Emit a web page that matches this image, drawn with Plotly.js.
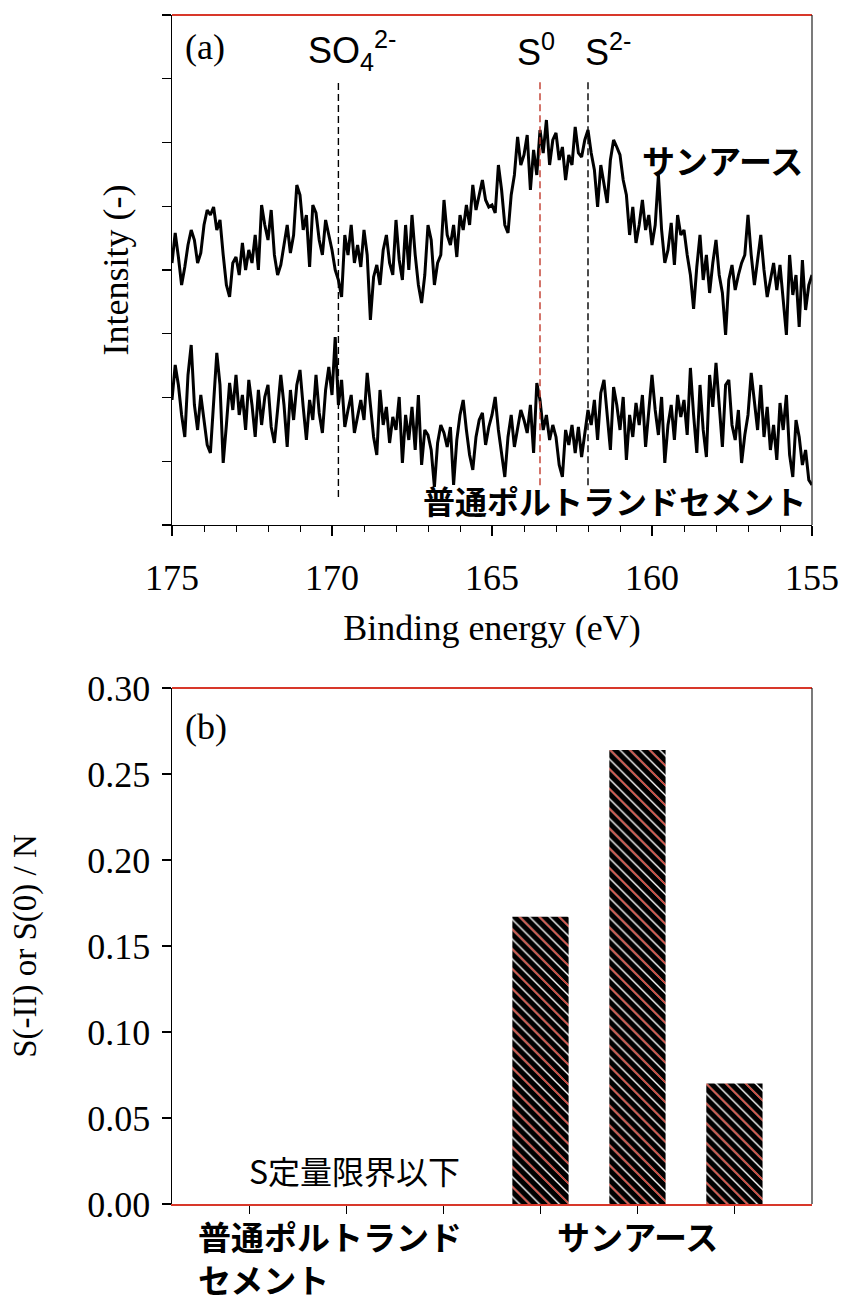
<!DOCTYPE html>
<html>
<head>
<meta charset="utf-8">
<script src="https://cdn.plot.ly/plotly-3.0.1.min.js"></script>
<style>
  html, body { margin: 0; padding: 0; background: #ffffff; }
  #chart { width: 843px; height: 1307px; }
</style>
</head>
<body>
<div id="chart"></div>
<script>
// ---------- Panel (a): XPS S2p spectra ----------
// Binding-energy grid of the measurement (eV), start and step
const eVStart = 175.0;
const eVStep = -0.1;

// Intensity (arbitrary units), 175 eV -> 155 eV
const sunEarthIntensity = [
  262, 292, 268, 240, 258, 280, 295, 285, 262, 272,
  300, 315, 310, 318, 295, 305, 270, 240, 228, 262,
  268, 250, 282, 255, 275, 262, 290, 255, 320, 300,
  285, 315, 270, 250, 260, 280, 300, 272, 290, 340,
  330, 295, 310, 258, 320, 312, 285, 270, 305, 290,
  275, 255, 245, 228, 290, 270, 300, 262, 280, 258,
  295, 270, 205, 248, 260, 240, 275, 290, 262, 250,
  305, 265, 245, 300, 255, 310, 270, 240, 222, 250,
  300, 285, 240, 262, 270, 325, 290, 280, 300, 268,
  310, 295, 320, 300, 340, 315, 330, 345, 325, 318,
  320, 312, 360, 335, 300, 292, 330, 350, 388, 360,
  370, 390, 335, 375, 350, 395, 372, 405, 360, 385,
  392, 365, 378, 345, 370, 360, 398, 372, 368, 385,
  395, 372, 355, 318, 360, 340, 322, 365, 385, 378,
  370, 345, 330, 290, 318, 282, 300, 325, 295, 310,
  280, 300, 350, 295, 262, 275, 302, 260, 310, 290,
  295, 270, 250, 216, 258, 290, 245, 270, 232, 262,
  285, 250, 232, 190, 245, 260, 235, 250, 262, 270,
  310, 270, 240, 265, 290, 255, 228, 245, 262, 235,
  260, 225, 190, 270, 230, 250, 198, 265, 215, 240,
  250
];
const opcIntensity = [
  125, 160, 140, 110, 88, 150, 180, 120, 95, 130,
  105, 80, 72, 120, 172, 140, 62, 100, 142, 115,
  150, 110, 130, 95, 145, 120, 88, 135, 100, 128,
  140, 98, 82, 115, 150, 120, 78, 135, 105, 140,
  155, 118, 85, 125, 105, 150, 112, 92, 135, 158,
  130, 188, 120, 145, 98, 115, 130, 92, 110, 125,
  105, 152, 120, 88, 70, 135, 100, 118, 82, 108,
  95, 128, 62, 110, 85, 118, 75, 130, 60, 95,
  90, 75, 38, 82, 100, 92, 78, 98, 40, 85,
  110, 125, 95, 70, 55, 88, 105, 112, 80, 98,
  110, 128, 95, 72, 48, 88, 110, 78, 95, 115,
  105, 92, 120, 72, 142, 125, 95, 110, 85, 100,
  88, 60, 48, 95, 80, 100, 72, 98, 68, 90,
  115, 100, 125, 85, 132, 145, 110, 75, 138, 120,
  95, 128, 65, 110, 88, 122, 100, 130, 78, 118,
  150, 115, 90, 128, 62, 100, 120, 85, 130, 108,
  125, 90, 157, 110, 72, 140, 95, 68, 150, 118,
  162, 120, 78, 140, 145, 100, 85, 115, 62, 90,
  110, 152, 125, 95, 140, 88, 118, 75, 100, 65,
  122, 95, 130, 70, 48, 105, 88, 60, 75, 45,
  40
];
const seriesNames = ['サンアース', '普通ポルトランドセメント'];

// Reference peak positions (eV) and labels
const peakEnergies = [169.8, 163.5, 162.0];
const peakLabels = ['SO<sub>4</sub><sup>2-</sup>', 'S<sup>0</sup>', 'S<sup>2-</sup>'];

// ---------- Panel (b): S(-II) or S(0) / N ----------
const samplePositions = [1, 2, 3, 4, 5, 6];
const sampleRatio = [null, null, null, 0.167, 0.264, 0.070];
const groupLabels = ['普通ポルトランド<br>セメント', 'サンアース'];
const groupCenters = [2, 5];
const belowLimitText = 'S定量限界以下';

// ---------- build ----------
const energies = sunEarthIntensity.map((_, i) => +(eVStart + i * eVStep).toFixed(1));

const serif = '"Liberation Serif", "Times New Roman", serif';
const sans = '"Liberation Sans", Arial, sans-serif';
const jp = '"Noto Sans CJK JP", "Noto Sans", sans-serif';
const red = '#d8382a';

const traces = [
  { type: 'scatter', mode: 'lines', x: energies, y: sunEarthIntensity, name: seriesNames[0],
    xaxis: 'x', yaxis: 'y', line: { color: '#000000', width: 3 }, hoverinfo: 'skip' },
  { type: 'scatter', mode: 'lines', x: energies, y: opcIntensity, name: seriesNames[1],
    xaxis: 'x', yaxis: 'y', line: { color: '#000000', width: 3 }, hoverinfo: 'skip' },
  { type: 'bar', x: samplePositions, y: sampleRatio, xaxis: 'x2', yaxis: 'y2', width: 0.58,
    marker: { color: '#000000', line: { width: 0 },
      pattern: { shape: '\\', fgcolor: '#ffffff', bgcolor: '#000000', size: 7, solidity: 0.2, fillmode: 'replace' } } },
  { type: 'bar', x: samplePositions, y: sampleRatio, xaxis: 'x2', yaxis: 'y2', width: 0.58,
    marker: { color: 'rgba(0,0,0,0)', line: { width: 0 },
      pattern: { shape: '\\', fgcolor: red, bgcolor: 'rgba(0,0,0,0)', size: 14, solidity: 0.1, fillmode: 'replace' } } }
];

const peakStyles = [
  { color: '#000000', bottom: 0.055 },
  { color: '#c0392b', bottom: 0.078 },
  { color: '#000000', bottom: 0.078 }
];
const peakShift = [14, -4, 20];

const shapes = [];
peakEnergies.forEach((e, i) => {
  shapes.push({ type: 'line', xref: 'x', yref: 'y domain', x0: e, x1: e,
    y0: peakStyles[i].bottom, y1: 0.872,
    line: { color: peakStyles[i].color, width: 1.4, dash: '7px,4px' } });
});
// frame borders
['', '2'].forEach(s => {
  shapes.push({ type: 'line', xref: 'x' + s + ' domain', yref: 'y' + s + ' domain', x0: 0, x1: 1, y0: 1, y1: 1,
    line: { color: red, width: 2 } });
  shapes.push({ type: 'line', xref: 'x' + s + ' domain', yref: 'y' + s + ' domain', x0: 1, x1: 1, y0: 0, y1: 1,
    line: { color: '#222222', width: 1.2 } });
});

const annotations = [
  { xref: 'x domain', yref: 'y domain', x: 0.017, y: 0.937, xanchor: 'left', yanchor: 'middle',
    text: '(a)', showarrow: false, font: { family: serif, size: 36, color: '#000' } },
  { xref: 'x2 domain', yref: 'y2 domain', x: 0.017, y: 0.924, xanchor: 'left', yanchor: 'middle',
    text: '(b)', showarrow: false, font: { family: serif, size: 36, color: '#000' } },
  { xref: 'x domain', yref: 'y domain', x: 0.989, y: 0.716, xanchor: 'right', yanchor: 'middle',
    text: '<b>' + seriesNames[0] + '</b>', showarrow: false, font: { family: jp, size: 33, color: '#000' } },
  { xref: 'x domain', yref: 'y domain', x: 0.994, y: 0.049, xanchor: 'right', yanchor: 'middle',
    text: '<b>' + seriesNames[1] + '</b>', showarrow: false, font: { family: jp, size: 32, color: '#000' } },
  { xref: 'x2', yref: 'y2', x: groupCenters[0], y: 0.020, xanchor: 'center', yanchor: 'middle', xshift: 8,
    text: belowLimitText, showarrow: false, font: { family: jp, size: 32, color: '#000' } }
];
peakEnergies.forEach((e, i) => {
  annotations.push({ xref: 'x', yref: 'y domain', x: e, y: 0.931, xanchor: 'center', yanchor: 'middle',
    xshift: peakShift[i], text: peakLabels[i], showarrow: false, font: { family: sans, size: 36, color: '#000' } });
});
groupLabels.forEach((g, i) => {
  annotations.push({ xref: 'x2', yref: 'y2 domain', x: groupCenters[i], y: -0.012, xanchor: 'center', yanchor: 'top',
    xshift: i === 0 ? -17 : 0, align: 'left', text: '<b>' + g + '</b>', showarrow: false,
    font: { family: jp, size: 33, color: '#000' } });
});

const layout = {
  width: 843, height: 1307,
  margin: { l: 172, r: 31, t: 15, b: 103, pad: 0 },
  paper_bgcolor: '#ffffff', plot_bgcolor: '#ffffff',
  showlegend: false, barmode: 'overlay',
  font: { family: serif, size: 34, color: '#000000' },
  xaxis: { domain: [0, 1], anchor: 'y', range: [175, 155], tick0: 155, dtick: 5,
    ticks: 'outside', ticklen: 10, tickwidth: 1.5, tickcolor: '#000',
    minor: { dtick: 1, ticks: 'outside', ticklen: 6, tickwidth: 1, tickcolor: '#000', showgrid: false },
    showline: true, linecolor: '#000', linewidth: 1.5, showgrid: false, zeroline: false, automargin: false,
    tickfont: { family: serif, size: 36 }, ticklabelstandoff: 10,
    title: { text: 'Binding energy (eV)', font: { family: serif, size: 36 }, standoff: 18 } },
  yaxis: { domain: [0.5711, 1], anchor: 'x', range: [0, 510], tick0: 0, dtick: 63.75,
    ticks: 'outside', ticklen: 9, tickwidth: 1.2, tickcolor: '#000', showticklabels: false,
    showline: true, linecolor: '#000', linewidth: 1.5, showgrid: false, zeroline: false, automargin: false,
    title: { text: 'Intensity (-)', font: { family: serif, size: 36 }, standoff: 22 } },
  xaxis2: { domain: [0, 1], anchor: 'y2', range: [0.2, 6.8], tickvals: samplePositions,
    ticks: 'outside', ticklen: 8, tickwidth: 1.2, tickcolor: '#000', showticklabels: false,
    showline: true, linecolor: red, linewidth: 2, showgrid: false, zeroline: false, automargin: false },
  yaxis2: { domain: [0, 0.43398], anchor: 'x2', range: [0, 0.30], tick0: 0, dtick: 0.05, tickformat: '.2f',
    ticks: 'outside', ticklen: 9, tickwidth: 1.2, tickcolor: '#000',
    showline: true, linecolor: '#000', linewidth: 1.5, showgrid: false, zeroline: false, automargin: false,
    tickfont: { family: serif, size: 36 }, ticklabelstandoff: 4,
    title: { text: 'S(-II) or S(0) / N', font: { family: serif, size: 33 }, standoff: 40 } },
  shapes: shapes,
  annotations: annotations
};

Plotly.newPlot('chart', traces, layout, { staticPlot: true, displayModeBar: false });
</script>
</body>
</html>
